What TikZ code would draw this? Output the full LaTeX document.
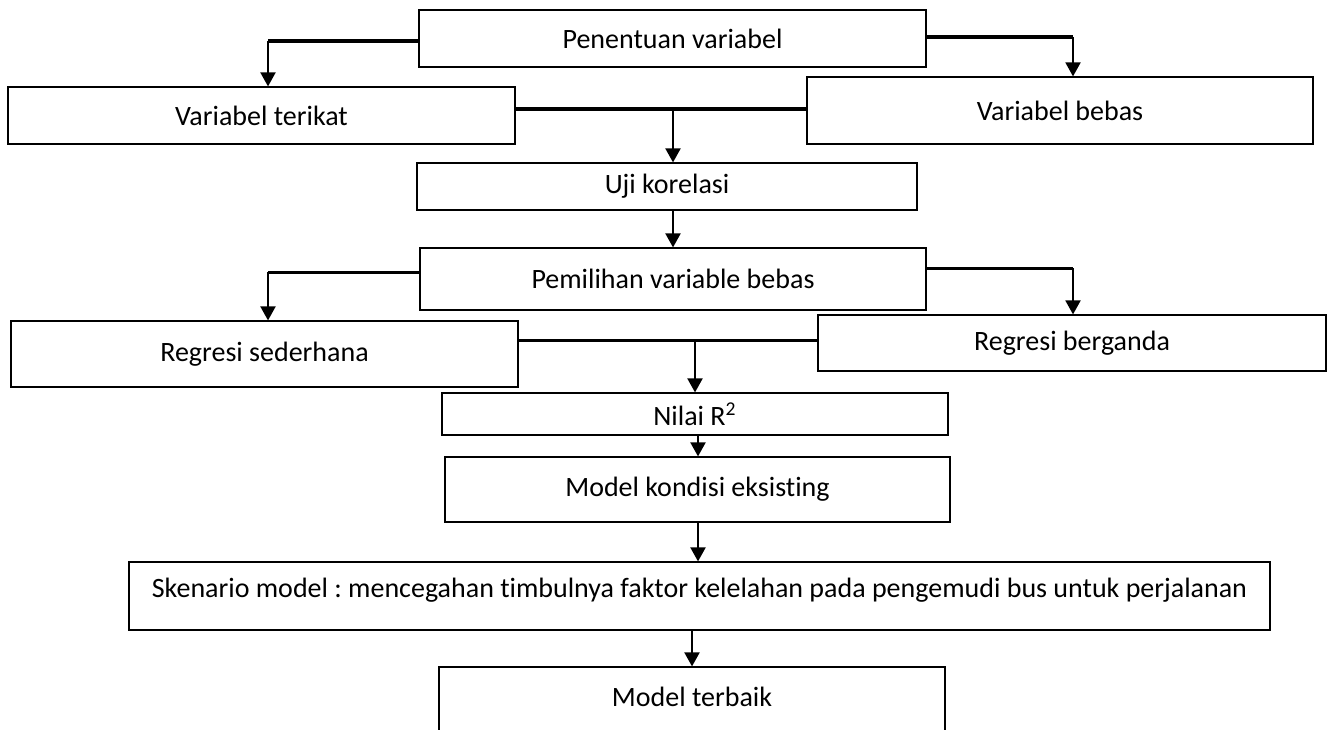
\documentclass[tikz,border=0pt]{standalone}
\usepackage{fontspec}
\setmainfont{Carlito}[Ligatures=NoCommon]
\frenchspacing
\usetikzlibrary{arrows.meta}

\begin{document}
\begin{tikzpicture}[
    x = 0.5pt, % one pixel of the layout
    y = -0.5pt, % y grows downwards
    > = {Triangle[length=7pt,width=7.5pt]}, % arrow head style
    font = \fontsize{14}{16}\selectfont,
    semithick % line style
    ]

    \tikzset{
    box/.style = {draw = black, line width = 0.6pt, inner sep = 0pt},
    bus/.style = {line width = 2pt},
    thinbus/.style = {line width = 1.5pt},
    arr/.style = {->, line width = 1pt}
    }

    \useasboundingbox (0,0) rectangle (1331,729);
    \clip (0,0) rectangle (1331,729);

    % boxes
    \node[box, minimum width=253.5pt, minimum height=28.5pt] (pv) at (672.5,38.5) {Penentuan variabel};
    \node[box, minimum width=253.5pt, minimum height=28.5pt] (vt) at (261.5,115.5) {Variabel terikat};
    \node[box, minimum width=253pt, minimum height=33.5pt] (vb) at (1060,110.5) {Variabel bebas};
    \node[box, minimum width=250pt, minimum height=23.5pt] (uji) at (667,186.5) {Uji korelasi};
    \node[box, minimum width=253pt, minimum height=31pt] (pvb) at (673,279) {Pemilihan variable bebas};
    \node[box, minimum width=253.5pt, minimum height=33pt] (rs) at (264.5,354) {Regresi sederhana};
    \node[box, minimum width=254pt, minimum height=28pt] (rb) at (1072,343) {Regresi berganda};
    \node[box, minimum width=253pt, minimum height=21pt] (nilai) at (695,414) {Nilai R\textsuperscript{2}};
    \node[box, minimum width=252.5pt, minimum height=32.5pt] (mke) at (697.5,489.5) {Model kondisi eksisting};
    \node[box, minimum width=570.5pt, minimum height=34pt] (sken) at (699.5,596) {};
    \node (skentext) at (699.5,590) {Skenario model : mencegahan timbulnya faktor kelelahan pada pengemudi bus untuk perjalanan};
    \node[box, minimum width=253pt, minimum height=46.5pt] (mt) at (692,713.5) {};
    \node (mttext) at (692,697) {Model terbaik};

    % first split
    \coordinate (pvL) at (268,41);
    \coordinate (pvR) at (1073,37);
    \draw[bus] (pv.west |- pvL) -- (pvL);
    \draw[arr] (pvL) -- (pvL |- vt.north);
    \draw[bus] (pv.east |- pvR) -- (pvR);
    \draw[arr] (pvR) -- (pvR |- vb.north);

    \coordinate (tier1) at (673,109);
    \draw[bus] (vt.east |- tier1) -- (vb.west |- tier1);
    \draw[arr] (tier1) -- (tier1 |- uji.north);
    \draw[arr] (tier1 |- uji.south) -- (tier1 |- pvb.north);

    % second split
    \coordinate (pvbL) at (268,272);
    \coordinate (pvbR) at (1073,268);
    \draw[thinbus] (pvb.west |- pvbL) -- (pvbL);
    \draw[arr] (pvbL) -- (pvbL |- rs.north);
    \draw[thinbus] (pvb.east |- pvbR) -- (pvbR);
    \draw[arr] (pvbR) -- (pvbR |- rb.north);

    \coordinate (tier2) at (695,340);
    \draw[thinbus] (rs.east |- tier2) -- (rb.west |- tier2);
    \draw[arr] (tier2) -- (tier2 |- nilai.north);

    % down the middle
    \coordinate (col) at (698,0);
    \draw[arr] (col |- nilai.south) -- (col |- mke.north);
    \draw[arr] (col |- mke.south) -- (col |- sken.north);
    \draw[arr] (mt.north |- sken.south) -- (mt.north);
\end{tikzpicture}
\end{document}
